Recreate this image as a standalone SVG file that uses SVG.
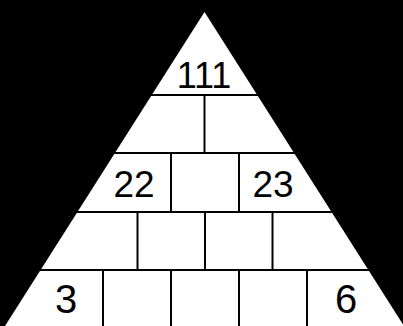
<svg xmlns="http://www.w3.org/2000/svg" width="403" height="326" viewBox="0 0 403 326">
<style>
.ln{stroke:#000;stroke-width:2;fill:none}
.t{font-family:"Liberation Sans",Arial,sans-serif;fill:#000;text-anchor:middle}
</style>
<rect x="0" y="0" width="403" height="326" fill="#000"/>
<polygon id="pyramid" points="204.5,12 5,326 404,326" fill="#fff"/>
<g id="connectors" class="ln">
<line x1="151" y1="95" x2="258" y2="95"/>
<line x1="114" y1="153" x2="295" y2="153"/>
<line x1="77" y1="212" x2="332" y2="212"/>
<line x1="40" y1="270" x2="369" y2="270"/>
<line x1="204.5" y1="95" x2="204.5" y2="153"/>
<line x1="171" y1="153" x2="171" y2="212"/>
<line x1="239" y1="153" x2="239" y2="212"/>
<line x1="137.5" y1="212" x2="137.5" y2="270"/>
<line x1="205" y1="212" x2="205" y2="270"/>
<line x1="272.5" y1="212" x2="272.5" y2="270"/>
<line x1="103" y1="270" x2="103" y2="326"/>
<line x1="171" y1="270" x2="171" y2="326"/>
<line x1="239" y1="270" x2="239" y2="326"/>
<line x1="307" y1="270" x2="307" y2="326"/>
</g>
<g id="n111"><text class="t" x="204" y="88" font-size="36">111</text></g>
<g id="n22"><text class="t" x="134" y="197" font-size="37">22</text></g>
<g id="n23"><text class="t" x="273" y="197" font-size="37">23</text></g>
<g id="n3"><text class="t" x="66" y="313" font-size="40">3</text></g>
<g id="n6"><text class="t" x="346" y="313" font-size="40">6</text></g>
</svg>
